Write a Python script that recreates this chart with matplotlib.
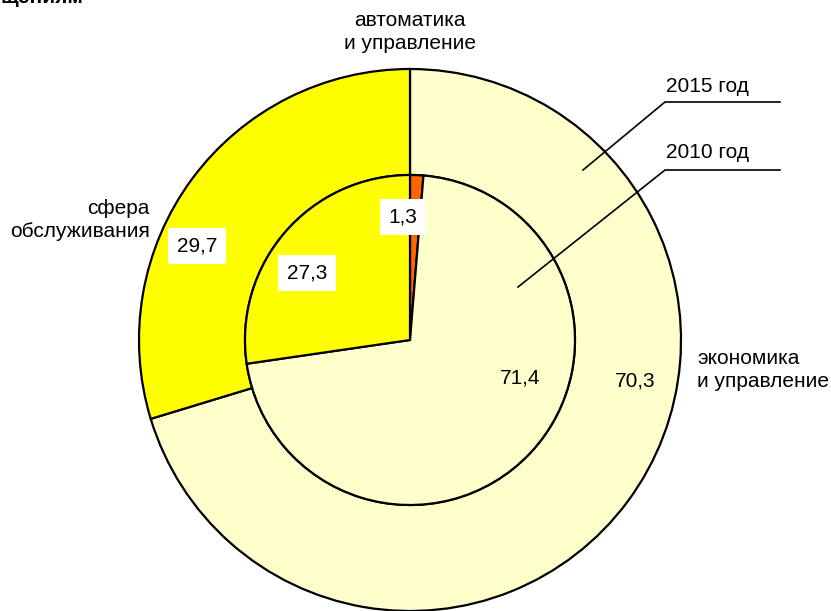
import matplotlib.pyplot as plt

plt.rcParams['font.family'] = ['Liberation Sans', 'DejaVu Sans']

# данные
labels = ['автоматика\nи управление', 'экономика\nи управление', 'сфера\nобслуживания']
y2010 = [1.3, 71.4, 27.3]
y2015 = [0.0, 70.3, 29.7]
colors = ['#FF6600', '#FFFFCC', '#FFFF00']

W, H = 831, 611
fig = plt.figure(figsize=(W / 100, H / 100), dpi=100)
ax = fig.add_axes([0, 0, 1, 1])

def py(y):
    # пиксели сверху -> координаты снизу
    return H - y

cx, cy = 410, py(340)
R_out, R_in = 271, 165

# внешнее кольцо - 2015 год
out_vals = [v for v in y2015 if v > 0]
out_cols = [c for v, c in zip(y2015, colors) if v > 0]
ax.pie(out_vals, colors=out_cols, startangle=90, counterclock=False,
       radius=R_out, center=(cx, cy), frame=True,
       wedgeprops=dict(width=R_out - R_in, edgecolor='black', linewidth=1.6))

# внутренний круг - 2010 год
ax.pie(y2010, colors=colors, startangle=90, counterclock=False,
       radius=R_in, center=(cx, cy), frame=True,
       wedgeprops=dict(edgecolor='black', linewidth=1.6))

ax.set_xlim(0, W)
ax.set_ylim(0, H)
ax.set_aspect('equal')
ax.axis('off')

fs = 15
box = dict(facecolor='white', edgecolor='none', pad=6)

# подписи значений
ax.text(403, py(217), '1,3', fontsize=fs, ha='center', va='center', bbox=box)
ax.text(307, py(273), '27,3', fontsize=fs, ha='center', va='center', bbox=box)
ax.text(197, py(246), '29,7', fontsize=fs, ha='center', va='center', bbox=box)
ax.text(520, py(378), '71,4', fontsize=fs, ha='center', va='center')
ax.text(635, py(381), '70,3', fontsize=fs, ha='center', va='center')

# подписи категорий
ax.text(410, py(32), labels[0], fontsize=fs, ha='center', va='center', linespacing=1.25)
ax.text(150, py(220), labels[2], fontsize=fs, ha='right', va='center', linespacing=1.25)
ax.text(697, py(370), labels[1], fontsize=fs, ha='left', va='center', linespacing=1.25)

# выноски годов
ax.plot([583, 665, 780], [py(170), py(102), py(102)], color='black', lw=1.2)
ax.plot([518, 665, 780], [py(287), py(170), py(170)], color='black', lw=1.2)
ax.text(707, py(87), '2015 год', fontsize=fs, ha='center', va='center')
ax.text(707, py(153), '2010 год', fontsize=fs, ha='center', va='center')

# обрезанный заголовок сверху
ax.text(0, py(3), 'щениям', fontsize=fs, fontweight='bold', ha='left', va='baseline')

fig.savefig('out.png', dpi=100)
